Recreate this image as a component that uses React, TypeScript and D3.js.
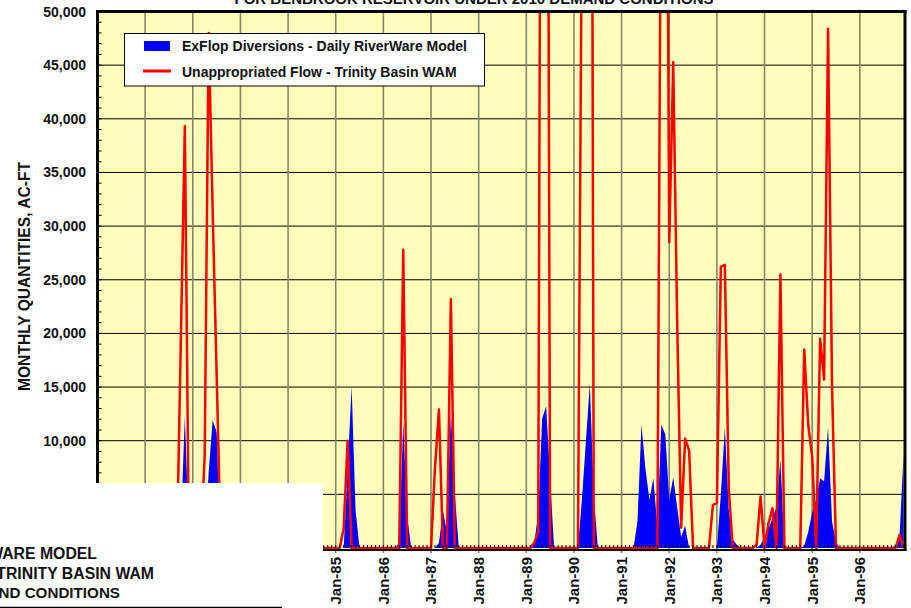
import { useEffect, useRef } from "react";
import * as d3 from "d3";

const chartTitle = "FOR BENBROOK RESERVOIR UNDER 2010 DEMAND CONDITIONS";
const yAxisTitle = "MONTHLY QUANTITIES, AC-FT";
const seriesNames = [
  "ExFlop Diversions - Daily RiverWare Model",
  "Unappropriated Flow - Trinity Basin WAM",
];
// tail ends of another title block that sits over the lower-left corner
const overlapLines = ["WARE MODEL", "TRINITY BASIN WAM", "ND CONDITIONS"];

const yearLabels = [
  "Jan-80", "Jan-81", "Jan-82", "Jan-83", "Jan-84", "Jan-85", "Jan-86", "Jan-87", "Jan-88",
  "Jan-89", "Jan-90", "Jan-91", "Jan-92", "Jan-93", "Jan-94", "Jan-95", "Jan-96",
];
const yTicks = [0, 5000, 10000, 15000, 20000, 25000, 30000, 35000, 40000, 45000, 50000];

// monthly values, Jan-1980 .. Dec-1996, ac-ft (one row per year)
const exflopDiversions = [
  0, 0, 0, 0, 0, 0, 0, 0, 0, 0, 0, 0,
  0, 0, 0, 0, 0, 0, 0, 0, 0, 2000, 12300, 1500,
  0, 0, 0, 0, 7100, 11900, 10800, 0, 0, 0, 0, 0,
  0, 0, 0, 0, 0, 0, 0, 0, 0, 0, 0, 0,
  0, 0, 0, 0, 0, 0, 0, 0, 0, 0, 0, 0,
  0, 0, 0, 7300, 15100, 3500, 0, 0, 0, 0, 0, 0,
  0, 0, 0, 0, 500, 11800, 3000, 0, 0, 0, 0, 0,
  0, 0, 500, 3500, 1500, 12800, 5000, 0, 0, 0, 0, 0,
  0, 0, 0, 0, 0, 0, 0, 0, 0, 0, 0, 0,
  0, 0, 500, 3200, 12100, 13200, 6500, 0, 0, 0, 0, 0,
  0, 0, 4500, 9900, 15300, 5000, 0, 0, 0, 0, 0, 0,
  0, 0, 0, 0, 2500, 11500, 7400, 4500, 6500, 2000, 11500, 10600,
  4500, 6600, 3800, 1000, 2100, 0, 0, 0, 0, 0, 0, 0,
  0, 5000, 11200, 3500, 800, 300, 0, 0, 0, 0, 0, 300,
  1000, 1800, 2800, 3800, 8200, 300, 0, 0, 0, 0, 200, 1500,
  3300, 4500, 6500, 6200, 11300, 2500, 500, 0, 0, 0, 0, 0,
  0, 0, 0, 0, 0, 0, 0, 0, 0, 300, 1000, 8700,
];

const unappropriatedFlow = [
  0, 0, 0, 0, 0, 0, 0, 0, 0, 0, 0, 0,
  0, 0, 0, 0, 0, 0, 0, 0, 0, 19600, 39300, 800,
  0, 0, 0, 8700, 48000, 31500, 16300, 1000, 0, 0, 0, 0,
  0, 0, 0, 0, 0, 0, 0, 0, 0, 0, 0, 0,
  0, 0, 0, 0, 0, 0, 0, 0, 0, 0, 0, 0,
  0, 0, 1800, 10000, 0, 0, 0, 0, 0, 0, 0, 0,
  0, 0, 0, 0, 0, 27800, 0, 0, 0, 0, 0, 0,
  0, 7500, 12900, 0, 0, 23200, 0, 0, 0, 0, 0, 0,
  0, 0, 0, 0, 0, 0, 0, 0, 0, 0, 0, 0,
  0, 0, 500, 1500, 120000, 130000, 0, 0, 0, 0, 0, 0,
  0, 0, 60000, 110000, 150000, 0, 0, 0, 0, 0, 0, 0,
  0, 0, 0, 0, 0, 0, 0, 0, 0, 0, 70000, 100000,
  28500, 45300, 21000, 1900, 10200, 9100, 0, 0, 0, 0, 0, 4000,
  4200, 26200, 26400, 5500, 0, 0, 0, 0, 0, 0, 300, 4800,
  0, 2300, 3700, 0, 25500, 0, 0, 0, 0, 0, 18500, 11500,
  8500, 0, 19500, 15700, 48400, 15000, 0, 0, 0, 0, 0, 0,
  0, 0, 0, 0, 0, 0, 0, 0, 0, 0, 1200, 0,
];

const FONT = "Arial, 'Liberation Sans', Helvetica, sans-serif";

export default function App() {
  const ref = useRef<SVGSVGElement | null>(null);

  useEffect(() => {
    if (!ref.current) return;
    const width = 911;
    const height = 608;
    const svg = d3.select(ref.current).attr("viewBox", `0 0 ${width} ${height}`);
    svg.selectAll("*").remove();

    const n = unappropriatedFlow.length;
    const x = d3.scaleLinear().domain([0, n - 1]).range([97.5, 903.5]);
    const y = d3.scaleLinear().domain([0, 50000]).range([548, 11.5]);
    const left = x(0);
    const right = 905;
    const top = y(50000);
    const bottom = y(0);

    // the white block that covers the lower-left corner
    const cover = { x: 0, y: 483, w: 323, h: 125 };
    const hidden = (px: number, py: number) => px < cover.x + cover.w && py > cover.y;

    svg.append("rect").attr("width", width).attr("height", height).attr("fill", "#fff");

    svg
      .append("text")
      .attr("x", 474)
      .attr("y", 4)
      .attr("text-anchor", "middle")
      .attr("font-family", FONT)
      .attr("font-weight", "bold")
      .attr("font-size", 15)
      .attr("fill", "#111")
      .text(chartTitle);

    // plot area
    svg
      .append("rect")
      .attr("x", left)
      .attr("y", top)
      .attr("width", right - left)
      .attr("height", bottom - top)
      .attr("fill", "#FFFFBB");

    svg
      .append("g")
      .selectAll("line")
      .data(yTicks.filter((t) => t > 0 && t < 50000))
      .join("line")
      .attr("x1", left)
      .attr("x2", right)
      .attr("y1", (d) => y(d))
      .attr("y2", (d) => y(d))
      .attr("stroke", "#000")
      .attr("stroke-width", 1);

    const januaries = yearLabels.map((_, i) => i * 12);
    svg
      .append("g")
      .selectAll("line")
      .data(januaries.slice(1))
      .join("line")
      .attr("x1", (d) => x(d))
      .attr("x2", (d) => x(d))
      .attr("y1", top)
      .attr("y2", bottom + 5)
      .attr("stroke", "#86866a")
      .attr("stroke-width", 1.6);

    svg
      .append("defs")
      .append("clipPath")
      .attr("id", "plot-clip")
      .append("rect")
      .attr("x", left)
      .attr("y", top)
      .attr("width", right - left)
      .attr("height", bottom - top + 2);

    const months = d3.range(n);
    const area = d3
      .area<number>()
      .x((d) => x(d))
      .y0(bottom)
      .y1((d) => y(exflopDiversions[d]));
    const line = d3
      .line<number>()
      .x((d) => x(d))
      .y((d) => y(unappropriatedFlow[d]));

    const plot = svg.append("g").attr("clip-path", "url(#plot-clip)");
    plot.append("path").datum(months).attr("d", area).attr("fill", "#0000FF");

    // monthly minor ticks along the bottom axis
    svg
      .append("g")
      .selectAll("line")
      .data(months)
      .join("line")
      .attr("x1", (d) => x(d))
      .attr("x2", (d) => x(d))
      .attr("y1", bottom)
      .attr("y2", bottom - 3)
      .attr("stroke", "#000")
      .attr("stroke-width", 1);

    svg
      .append("line")
      .attr("x1", left - 1.5)
      .attr("x2", right + 1.5)
      .attr("y1", bottom + 2)
      .attr("y2", bottom + 2)
      .attr("stroke", "#000")
      .attr("stroke-width", 2);

    plot
      .append("path")
      .datum(months)
      .attr("d", line)
      .attr("fill", "none")
      .attr("stroke", "#FF0000")
      .attr("stroke-width", 2.5)
      .attr("stroke-linejoin", "round");

    // minor ticks on the value axis every 1,000
    svg
      .append("g")
      .selectAll("line")
      .data(d3.range(0, 50001, 1000))
      .join("line")
      .attr("x1", left)
      .attr("x2", left + 4)
      .attr("y1", (d) => y(d))
      .attr("y2", (d) => y(d))
      .attr("stroke", "#000")
      .attr("stroke-width", 1);

    // frame: heavy left axis, top and right borders
    svg
      .append("line")
      .attr("x1", left)
      .attr("x2", left)
      .attr("y1", top - 1.5)
      .attr("y2", bottom + 3)
      .attr("stroke", "#000")
      .attr("stroke-width", 3);
    svg
      .append("line")
      .attr("x1", left - 1.5)
      .attr("x2", right + 1.5)
      .attr("y1", top)
      .attr("y2", top)
      .attr("stroke", "#000")
      .attr("stroke-width", 3);
    svg
      .append("line")
      .attr("x1", right)
      .attr("x2", right)
      .attr("y1", top - 1.5)
      .attr("y2", bottom + 3)
      .attr("stroke", "#000")
      .attr("stroke-width", 3);

    // tick labels that fall under the covering block are not drawn
    svg
      .append("g")
      .selectAll("text")
      .data(yTicks.filter((d) => !hidden(86, y(d))))
      .join("text")
      .attr("x", 86)
      .attr("y", (d) => y(d))
      .attr("dy", "0.36em")
      .attr("text-anchor", "end")
      .attr("font-family", FONT)
      .attr("font-weight", "bold")
      .attr("font-size", 14)
      .attr("fill", "#111")
      .text((d) => d3.format(",")(d));

    const xLabels = yearLabels
      .map((label, i) => ({ label, m: januaries[i] }))
      .filter((d) => !hidden(x(d.m), 560));
    svg
      .append("g")
      .selectAll("text")
      .data(xLabels)
      .join("text")
      .attr("transform", (d) => `translate(${x(d.m)},557) rotate(-90)`)
      .attr("dy", "0.36em")
      .attr("text-anchor", "end")
      .attr("font-family", FONT)
      .attr("font-weight", "bold")
      .attr("font-size", 15)
      .attr("fill", "#111")
      .text((d) => d.label);

    svg
      .append("text")
      .attr("transform", `translate(30,${(163 + 390) / 2}) rotate(-90)`)
      .attr("text-anchor", "middle")
      .attr("font-family", FONT)
      .attr("font-weight", "bold")
      .attr("font-size", 15.6)
      .attr("fill", "#111")
      .text(yAxisTitle);

    // legend
    const legend = svg.append("g");
    legend
      .append("rect")
      .attr("x", 124.5)
      .attr("y", 33.5)
      .attr("width", 360)
      .attr("height", 52.5)
      .attr("fill", "#fff")
      .attr("stroke", "#000")
      .attr("stroke-width", 1);
    legend
      .append("rect")
      .attr("x", 144)
      .attr("y", 41)
      .attr("width", 26)
      .attr("height", 10)
      .attr("fill", "#0000FF");
    legend
      .append("line")
      .attr("x1", 143)
      .attr("x2", 171)
      .attr("y1", 71)
      .attr("y2", 71)
      .attr("stroke", "#FF0000")
      .attr("stroke-width", 3);
    legend
      .selectAll("text")
      .data(seriesNames)
      .join("text")
      .attr("x", 182)
      .attr("y", (_, i) => (i === 0 ? 51 : 77))
      .attr("font-family", FONT)
      .attr("font-weight", "bold")
      .attr("font-size", 14)
      .attr("fill", "#111")
      .text((d) => d);

    svg
      .append("rect")
      .attr("x", cover.x)
      .attr("y", cover.y)
      .attr("width", cover.w)
      .attr("height", cover.h)
      .attr("fill", "#fff");
    const ends = [97, 154, 120];
    const bases = [559, 579, 598];
    const sizes = [15.8, 15.8, 15.2];
    svg
      .append("g")
      .selectAll("text")
      .data(overlapLines)
      .join("text")
      .attr("x", (_, i) => ends[i])
      .attr("y", (_, i) => bases[i])
      .attr("text-anchor", "end")
      .attr("font-family", FONT)
      .attr("font-weight", "bold")
      .attr("font-size", (_, i) => sizes[i])
      .attr("fill", "#111")
      .text((d) => d);
    svg
      .append("line")
      .attr("x1", 0)
      .attr("x2", 282)
      .attr("y1", 607.5)
      .attr("y2", 607.5)
      .attr("stroke", "#000")
      .attr("stroke-width", 1.5);
  }, []);

  return (
    <svg
      ref={ref}
      width={911}
      height={608}
      style={{ position: "absolute", left: 0, top: 0, display: "block" }}
    />
  );
}
